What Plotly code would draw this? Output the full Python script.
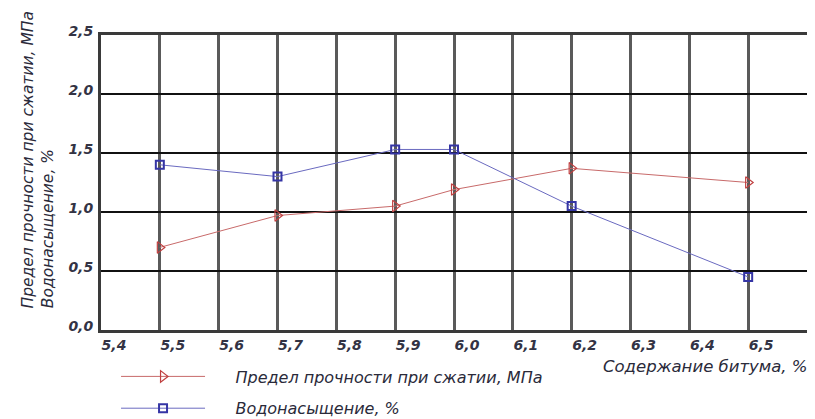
import plotly.graph_objects as go

bitumen = [5.5, 5.7, 5.9, 6.0, 6.2, 6.5]
strength = [0.70, 0.97, 1.05, 1.19, 1.37, 1.25]
water = [1.40, 1.30, 1.53, 1.53, 1.05, 0.45]

x_ticks = [5.4, 5.5, 5.6, 5.7, 5.8, 5.9, 6.0, 6.1, 6.2, 6.3, 6.4, 6.5]
y_ticks = [0.0, 0.5, 1.0, 1.5, 2.0, 2.5]

name_strength = "Предел прочности при сжатии, МПа"
name_water = "Водонасыщение, %"
x_title = "Содержание битума, %"

FONT = "DejaVu Sans"
TXT = "#2a2a3a"
PAD = "\u00a0" * 5

fig = go.Figure()
fig.add_trace(go.Scatter(
    x=bitumen, y=strength, name=PAD + name_strength, mode="lines+markers",
    legendgroup="a",
    line=dict(color="#c86a6a", width=1),
    marker=dict(symbol="triangle-right-open", size=10, color="#c04040",
                line=dict(width=1.2)),
))
fig.add_trace(go.Scatter(
    x=bitumen, y=water, name=PAD + name_water, mode="lines+markers",
    legendgroup="b",
    line=dict(color="#6a6ac0", width=1),
    marker=dict(symbol="square-open", size=8, color="#3535a5",
                line=dict(width=2)),
))

# the page body adds an 8px offset; the margins below compensate for it
fig.update_layout(
    template="none",
    width=807, height=411,
    margin=dict(l=93, r=8, t=27, b=89, autoexpand=False),
    paper_bgcolor="white", plot_bgcolor="white",
    separators=", ",
    font=dict(family=FONT, color=TXT, size=14, style="italic"),
    showlegend=True,
    legend=dict(
        x=0.0213, y=-0.10, xanchor="left", yanchor="top",
        xref="paper", yref="paper",
        itemwidth=84, tracegroupgap=8,
        font=dict(family=FONT, size=16, style="italic", color=TXT),
        bgcolor="rgba(0,0,0,0)",
    ),
)

fig.update_xaxes(
    range=[5.4, 6.6], tickvals=x_ticks, tickformat=".1f", automargin=False,
    showgrid=True, gridcolor="#5a5a5a", gridwidth=3,
    showline=True, linecolor="#3a3a3a", linewidth=3, mirror=True,
    ticks="", ticklabelshift=13, ticklabelstandoff=0,
    tickfont=dict(family=FONT, size=14, style="italic", weight="bold", color="#333344"),
    zeroline=False,
)
fig.update_yaxes(
    range=[0, 2.5], tickvals=y_ticks, tickformat=".1f", automargin=False,
    showgrid=True, gridcolor="#111111", gridwidth=2,
    showline=True, linecolor="#3a3a3a", linewidth=3, mirror=True,
    ticks="", ticklabelshift=-4, ticklabelstandoff=2,
    tickfont=dict(family=FONT, size=14, style="italic", weight="bold", color="#333344"),
    zeroline=False,
)

# axis titles
fig.add_annotation(
    text=name_strength, textangle=-90, xref="paper", yref="paper",
    x=-0.1034, y=0.068, xanchor="center", yanchor="bottom", showarrow=False,
    font=dict(family=FONT, size=15.5, style="italic", color=TXT),
)
fig.add_annotation(
    text=name_water, textangle=-90, xref="paper", yref="paper",
    x=-0.074, y=0.068, xanchor="center", yanchor="bottom", showarrow=False,
    font=dict(family=FONT, size=15.5, style="italic", color=TXT),
)
fig.add_annotation(
    text=x_title, xref="paper", yref="paper",
    x=1.004, y=-0.125, xanchor="right", yanchor="middle", showarrow=False,
    font=dict(family=FONT, size=16.5, style="italic", color=TXT),
)

fig.write_html("out.html")
